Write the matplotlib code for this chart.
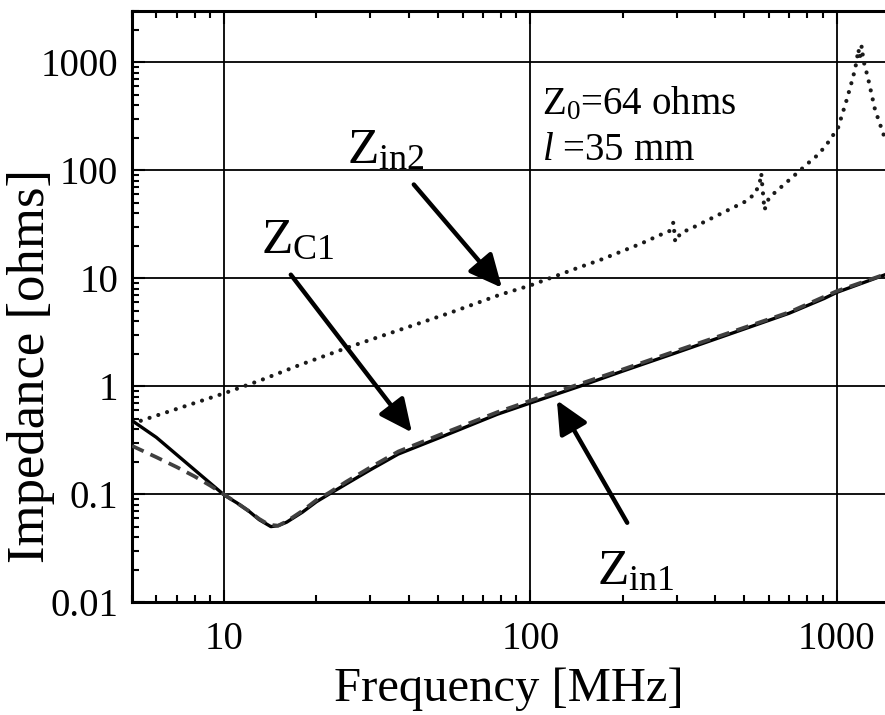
import matplotlib
matplotlib.use('Agg')
from matplotlib import pyplot as plt
from matplotlib.ticker import LogLocator, FixedLocator, FixedFormatter, NullFormatter

plt.rcParams['font.family'] = ['Liberation Serif', 'DejaVu Serif']
plt.rcParams['mathtext.fontset'] = 'custom'
plt.rcParams['mathtext.rm'] = 'Liberation Serif'
plt.rcParams['mathtext.it'] = 'Liberation Serif:italic'

# Z_in1 (solid)
freq_in1 = [5, 6, 10, 11, 12, 13, 14.2, 15, 16, 18, 20, 22, 25, 30, 37, 50, 78,
            100, 145, 200, 300, 500, 700, 910, 1000, 1440]
z_in1 = [0.48, 0.336, 0.098, 0.083, 0.07, 0.058, 0.05, 0.051, 0.055, 0.068,
         0.085, 0.1, 0.124, 0.168, 0.235, 0.33, 0.55, 0.70, 1.0, 1.38, 2.05,
         3.4, 4.75, 6.5, 7.4, 10.8]

# Z_C1 (dashed)
freq_c1 = [5, 6, 7, 8, 9, 10, 11, 12, 13, 14, 15, 16, 18, 20, 22, 25, 30, 37,
           50, 78, 100, 145, 200, 300, 500, 700, 1000, 1440]
z_c1 = [0.28, 0.22, 0.178, 0.146, 0.12, 0.099, 0.083, 0.07, 0.059, 0.052,
        0.051, 0.056, 0.07, 0.088, 0.103, 0.13, 0.177, 0.248, 0.35, 0.575,
        0.735, 1.05, 1.43, 2.13, 3.5, 4.85, 7.6, 10.9]

# Z_in2 (dotted)
freq_in2 = [5, 10, 13.2, 17.6, 25.6, 54.4, 79, 100, 145, 168, 185, 230, 264,
            285, 293, 297, 310, 330, 404, 500, 539, 560, 567, 575, 581, 600,
            627, 710, 816, 870, 925, 1010, 1078, 1133, 1160, 1177, 1190, 1207,
            1222, 1240, 1268, 1334, 1435]
z_in2 = [0.45, 0.86, 1.14, 1.57, 2.31, 4.77, 7.0, 8.6, 12.7, 14.7, 16.4, 21.0,
         25.1, 27.5, 33, 21.8, 26.5, 28.4, 37.8, 51, 60, 75, 94, 60, 43, 55,
         62, 84.5, 120, 140, 172, 247, 450, 745, 1000, 1330, 1100, 1420, 1050,
         900, 700, 366, 200]

yticks = [0.01, 0.1, 1, 10, 100, 1000]
ytick_labels = ['0.01', '0.1', '1', '10', '100', '1000']
xticks = [10, 100, 1000]
xtick_labels = ['10', '100', '1000']

fig = plt.figure(figsize=(8.85, 7.15), dpi=100)
ax = fig.add_axes([0.1492, 0.158, 0.851, 0.8266])
ax.set_xscale('log')
ax.set_yscale('log')
ax.set_xlim(5, 1440)
ax.set_ylim(0.01, 3000)

ax.plot(freq_in2, z_in2, color='#1a1a1a', lw=3.0, linestyle=(0, (0.01, 2.2)),
        dash_capstyle='round', zorder=3)
ax.plot(freq_in1, z_in1, color='k', lw=2.4, zorder=3)
ax.plot(freq_c1, z_c1, color='#404040', lw=2.7, linestyle=(0, (3.4, 2.0)), zorder=4)

ax.yaxis.set_major_locator(FixedLocator(yticks))
ax.yaxis.set_major_formatter(FixedFormatter(ytick_labels))
ax.xaxis.set_major_locator(FixedLocator(xticks))
ax.xaxis.set_major_formatter(FixedFormatter(xtick_labels))
ax.yaxis.set_minor_locator(LogLocator(base=10, subs=range(2, 10), numticks=20))
ax.xaxis.set_minor_locator(LogLocator(base=10, subs=range(2, 10), numticks=20))
ax.xaxis.set_minor_formatter(NullFormatter())
ax.yaxis.set_minor_formatter(NullFormatter())

ax.tick_params(which='both', direction='in', top=True, right=False, width=1.5,
               labelsize=28)
ax.tick_params(which='major', length=9)
ax.tick_params(which='minor', length=5)
ax.tick_params(axis='y', pad=10)
ax.tick_params(axis='x', pad=14)

ax.grid(which='major', color='k', lw=1.3)
ax.set_axisbelow(True)
for side in ['left', 'bottom', 'top']:
    ax.spines[side].set_linewidth(2.2)
ax.spines['right'].set_visible(False)

ax.set_xlabel('Frequency [MHz]', fontsize=35, labelpad=6)
ax.set_ylabel('Impedance [ohms]', fontsize=38)
ax.yaxis.set_label_coords(-0.102, 0.40)

arrow = dict(arrowstyle='-|>,head_length=1.0,head_width=0.47', lw=3.2,
             color='k', shrinkA=0, shrinkB=0, mutation_scale=20)
ax.annotate('', xy=(80.7, 8.17), xytext=(41.6, 74), arrowprops=arrow, zorder=5)
ax.annotate('', xy=(41.0, 0.373), xytext=(16.5, 10.8), arrowprops=arrow, zorder=5)
ax.annotate('', xy=(122, 0.74), xytext=(207, 0.0543), arrowprops=arrow, zorder=5)

ax.text(25.1, 118, r'$\mathrm{Z}_{\mathrm{in2}}$', fontsize=37, va='baseline')
ax.text(13.2, 17.2, r'$\mathrm{Z}_{\mathrm{C1}}$', fontsize=37, va='baseline')
ax.text(165, 0.0147, r'$\mathrm{Z}_{\mathrm{in1}}$', fontsize=37, va='baseline')
ax.text(108.7, 332, r'$\mathrm{Z}_0$=64 ohms', fontsize=28, va='baseline')
ax.text(108.7, 126, r'$l$ =35 mm', fontsize=28, va='baseline')

fig.savefig('out.png', dpi=100)
